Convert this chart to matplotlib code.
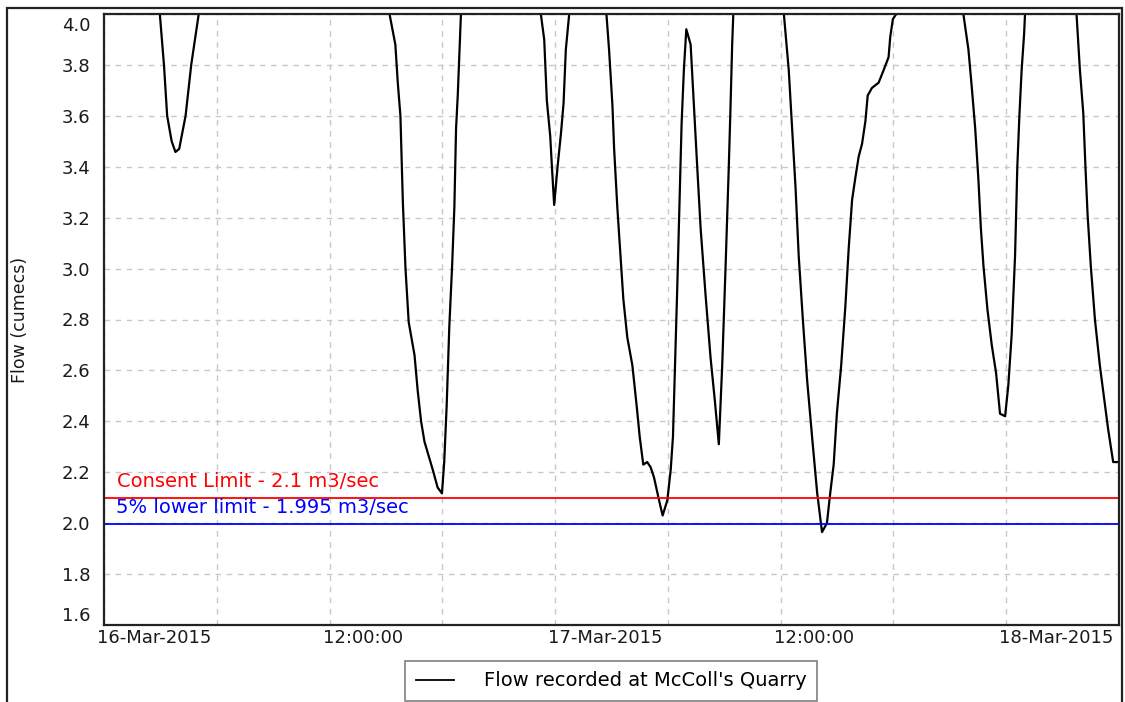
import numpy as np
import pandas as pd
import matplotlib
matplotlib.use('Agg')
from matplotlib import pyplot as plt
from matplotlib.transforms import ScaledTranslation
from matplotlib.patches import Rectangle
from matplotlib.lines import Line2D

# hours after 16-Mar-2015 00:00 and flow in cumecs (values above 4.0 are off the chart)
hours = [0.0, 1.0, 2.0, 2.97, 3.19, 3.36, 3.6, 3.8, 4.0, 4.34, 4.64, 5.04,
         6.0, 8.0, 10.0, 12.0, 14.0, 15.19, 15.5, 15.63, 15.77, 15.9, 16.04,
         16.21, 16.52, 16.69, 16.87, 17.05, 17.49, 17.75, 17.98, 18.1, 18.23,
         18.37, 18.52, 18.64, 18.73, 18.82, 18.94, 18.99, 20.0, 21.5, 22.7,
         23.24, 23.42, 23.56, 23.74, 23.83, 23.95, 24.13, 24.31, 24.45, 24.57,
         24.75, 25.3, 25.8, 26.4, 26.73, 26.87, 27.05, 27.14, 27.31, 27.49,
         27.63, 27.84, 28.11, 28.34, 28.5, 28.69, 28.9, 29.08, 29.26, 29.53,
         29.72, 29.97, 30.15, 30.27, 30.38, 30.5, 30.63, 30.73, 30.85, 30.98,
         31.21, 31.39, 31.56, 31.74, 32.0, 32.27, 32.5, 32.71, 32.89, 33.07,
         33.24, 33.33, 33.42, 33.48, 34.3, 35.3, 36.17, 36.43, 36.61, 36.79,
         36.96, 37.18, 37.41, 37.67, 37.94, 38.2, 38.46, 38.64, 38.82, 38.99,
         39.22, 39.44, 39.62, 39.8, 39.98, 40.15, 40.33, 40.51, 40.63, 40.86,
         41.21, 41.48, 41.74, 41.83, 41.97, 42.15, 43.0, 44.5, 45.72, 45.99,
         46.17, 46.35, 46.52, 46.65, 46.79, 47.0, 47.23, 47.46, 47.67, 47.94,
         48.11, 48.29, 48.47, 48.59, 48.7, 48.82, 48.95, 49.0, 50.0, 51.2,
         51.74, 51.92, 52.1, 52.22, 52.33, 52.5, 52.72, 52.98, 53.21, 53.42,
         53.69, 53.92]
flow = [4.45, 4.3, 4.15, 4.0, 3.8, 3.6, 3.5, 3.458, 3.47, 3.6, 3.8, 4.0,
        4.3, 4.6, 4.7, 4.6, 4.3, 4.0, 3.88, 3.73, 3.6, 3.26, 3.0,
        2.79, 2.66, 2.52, 2.40, 2.32, 2.21, 2.14, 2.117, 2.24, 2.46,
        2.77, 3.01, 3.24, 3.55, 3.68, 3.9, 4.0, 4.4, 4.5, 4.2,
        4.0, 3.9, 3.66, 3.52, 3.40, 3.25, 3.40, 3.53, 3.65, 3.86,
        4.0, 4.15, 4.2, 4.1, 4.0, 3.86, 3.64, 3.47, 3.24, 3.04,
        2.88, 2.73, 2.62, 2.46, 2.34, 2.23, 2.24, 2.22, 2.18, 2.09,
        2.03, 2.09, 2.21, 2.34, 2.62, 2.93, 3.30, 3.57, 3.78, 3.94,
        3.88, 3.63, 3.40, 3.16, 2.90, 2.65, 2.48, 2.31, 2.62, 3.01,
        3.40, 3.63, 3.88, 4.0, 4.4, 4.4, 4.0, 3.78, 3.55, 3.32,
        3.05, 2.80, 2.56, 2.34, 2.12, 1.965, 2.0, 2.12, 2.23, 2.43,
        2.62, 2.85, 3.08, 3.27, 3.36, 3.44, 3.49, 3.58, 3.68, 3.71,
        3.73, 3.78, 3.83, 3.91, 3.98, 4.0, 4.3, 4.3, 4.0, 3.86,
        3.71, 3.55, 3.35, 3.16, 3.01, 2.84, 2.70, 2.59, 2.43, 2.42,
        2.54, 2.74, 3.05, 3.40, 3.6, 3.78, 3.92, 4.0, 4.3, 4.2,
        4.0, 3.78, 3.61, 3.39, 3.21, 3.01, 2.80, 2.62, 2.49, 2.37,
        2.24, 2.24]

consent_limit = 2.1
lower_limit = 1.995
consent_label = 'Consent Limit - 2.1 m3/sec'
lower_label = '5% lower limit - 1.995 m3/sec'
series_label = "Flow recorded at McColl's Quarry"

tick_hours = [0, 12, 24, 36, 48]
tick_labels = ['16-Mar-2015', '12:00:00', '17-Mar-2015', '12:00:00', '18-Mar-2015']
grid_hours = [6, 18, 30, 42]
y_ticks = [1.6, 1.8, 2.0, 2.2, 2.4, 2.6, 2.8, 3.0, 3.2, 3.4, 3.6, 3.8, 4.0]

plt.rcParams['font.family'] = ['DejaVu Sans']

start = pd.Timestamp('2015-03-16 00:00')
times = start + pd.to_timedelta(hours, unit='h')

W, H = 1125, 702
fig = plt.figure(figsize=(W / 100, H / 100), dpi=100)
ax = fig.add_axes([104 / W, 1 - 625 / H, (1119 - 104) / W, (625 - 14) / H])

ax.plot(times, flow, color='black', lw=1.6)
ax.axhline(consent_limit, color='#ff0000', lw=1.3)
ax.axhline(lower_limit, color='#0000ff', lw=1.3)

ax.set_ylim(1.6, 4.0)
ax.set_xlim(start, start + pd.Timedelta(hours=54))

ax.set_yticks(y_ticks)
ax.set_yticklabels(['%.1f' % v for v in y_ticks])
ax.set_xticks(start + pd.to_timedelta(tick_hours, unit='h'))
ax.set_xticklabels(tick_labels, ha='left')
ax.set_xticks(start + pd.to_timedelta(grid_hours, unit='h'), minor=True)
ax.tick_params(axis='both', which='both', length=0, labelsize=13, colors='#1a1a1a')
ax.tick_params(axis='y', pad=10)
ax.tick_params(axis='x', pad=3)
ax.grid(True, which='both', color='#c8c8c8', linestyle=(0, (4, 4)), lw=1)

# labels sit just left of their tick, end labels pulled inside the frame
for lab in ax.get_xticklabels():
    lab.set_transform(lab.get_transform() + ScaledTranslation(-7 / 100, 0, fig.dpi_scale_trans))
ylabs = ax.get_yticklabels()
ylabs[0].set_va('bottom')
ylabs[-1].set_va('top')
ylabs[-1].set_transform(ylabs[-1].get_transform() + ScaledTranslation(0, -3 / 100, fig.dpi_scale_trans))

for s in ax.spines.values():
    s.set_linewidth(1.6)
    s.set_color('#222222')

ax.text(13 / 1015, 2.162, consent_label, color='#ff0000', fontsize=14,
        va='center', ha='left', transform=ax.get_yaxis_transform())
ax.text(12 / 1015, 2.06, lower_label, color='#0000ff', fontsize=14,
        va='center', ha='left', transform=ax.get_yaxis_transform())

fig.text(20 / W, 1 - 320 / H, 'Flow (cumecs)', rotation=90, va='center',
         ha='center', fontsize=12.5, color='#1a1a1a')

handle = Line2D([], [], color='black', lw=1.3)
leg = fig.legend([handle], [series_label], loc='center',
                 bbox_to_anchor=(611 / W, 1 - 681 / H), fontsize=14,
                 fancybox=False, framealpha=1, edgecolor='#808080',
                 handlelength=1.95, handletextpad=1.55, borderpad=0.55,
                 borderaxespad=0)
leg.get_frame().set_linewidth(1.2)

fig.add_artist(Rectangle((7 / W, -0.02), (1122 - 7) / W, 1 - 8 / H + 0.02,
                         transform=fig.transFigure, fill=False,
                         edgecolor='#222222', lw=1.6))

fig.savefig('out.png', dpi=100)
